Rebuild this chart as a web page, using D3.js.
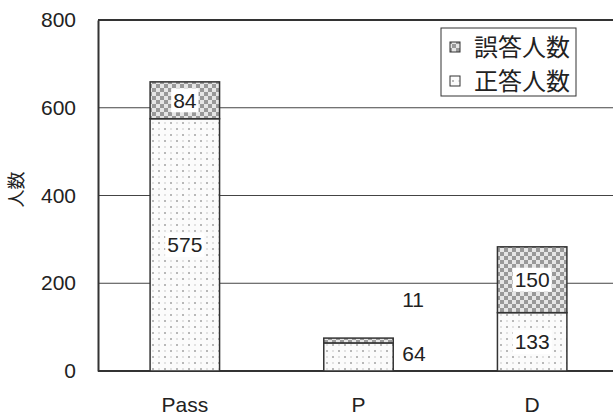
<!DOCTYPE html>
<html>
<head>
<meta charset="utf-8">
<script src="https://cdn.jsdelivr.net/npm/d3@7"></script>
<style>
  body { margin: 0; background: #fff; }
  text { font-family: "Liberation Sans", Arial, "Noto Sans CJK JP", sans-serif; fill: #222; }
</style>
</head>
<body>
<div id="chart"></div>
<script>
// data
const categories = ["Pass", "P", "D"]
const correct = [575, 64, 133]   // 正答人数
const wrong = [84, 11, 150]      // 誤答人数
const yTicks = [0, 200, 400, 600, 800]
const seriesNames = ["誤答人数", "正答人数"]

const width = 613
const height = 419
const margin = { top: 20, right: -6, bottom: 48, left: 98 }

const svg = d3.select("#chart").append("svg")
  .attr("width", width)
  .attr("height", height)

// fill patterns
const defs = svg.append("defs")
const dots = defs.append("pattern")
  .attr("id", "dots")
  .attr("patternUnits", "userSpaceOnUse")
  .attr("width", 12).attr("height", 12)
dots.append("rect").attr("width", 12).attr("height", 12).attr("fill", "#fbfbfb")
dots.append("rect").attr("x", 2).attr("y", 2).attr("width", 2).attr("height", 2).attr("fill", "#b8b8b8")
dots.append("rect").attr("x", 8).attr("y", 8).attr("width", 2).attr("height", 2).attr("fill", "#b8b8b8")
dots.append("rect").attr("x", 8).attr("y", 2).attr("width", 2).attr("height", 2).attr("fill", "#e2e2e2")
dots.append("rect").attr("x", 2).attr("y", 8).attr("width", 2).attr("height", 2).attr("fill", "#e2e2e2")

const check = defs.append("pattern")
  .attr("id", "check")
  .attr("patternUnits", "userSpaceOnUse")
  .attr("width", 8).attr("height", 8)
check.append("rect").attr("width", 8).attr("height", 8).attr("fill", "#e6e6e6")
check.append("rect").attr("width", 4).attr("height", 4).attr("fill", "#999")
check.append("rect").attr("x", 4).attr("y", 4).attr("width", 4).attr("height", 4).attr("fill", "#999")

// scales
const x = d3.scaleBand()
  .domain(categories)
  .range([margin.left, width - margin.right])
  .paddingInner(0.6)
  .paddingOuter(0.3)

const y = d3.scaleLinear()
  .domain([0, 800])
  .range([height - margin.bottom, margin.top])

// gridlines
svg.append("g")
  .selectAll("line")
  .data(yTicks.filter(t => t > 0))
  .join("line")
  .attr("x1", margin.left).attr("x2", width)
  .attr("y1", d => y(d)).attr("y2", d => y(d))
  .attr("stroke", d => d === 800 ? "#333" : "#444")
  .attr("stroke-width", d => d === 800 ? 2 : 1)

// y axis
const yAxis = svg.append("g")
  .attr("transform", "translate(" + margin.left + ",0)")
  .call(d3.axisLeft(y).tickValues(yTicks).tickSize(0).tickPadding(22))
yAxis.select(".domain").attr("stroke", "#333").attr("stroke-width", 2)
yAxis.selectAll("text").style("font-size", "21px").attr("fill", "#222")

// x axis
const xAxis = svg.append("g")
  .attr("transform", "translate(0," + y(0) + ")")
  .call(d3.axisBottom(x).tickSize(0).tickPadding(26))
xAxis.select(".domain").attr("d", "M" + margin.left + ",0H" + width)
  .attr("stroke", "#333").attr("stroke-width", 2)
xAxis.selectAll("text").style("font-size", "21px").attr("fill", "#222")

// y label
svg.append("text")
  .attr("transform", "translate(17," + (y(400) - 6) + ") rotate(-90)")
  .attr("text-anchor", "middle")
  .attr("dy", "0.35em")
  .style("font-size", "18px")
  .style("font-family", "'Noto Sans CJK JP', sans-serif")
  .text("人数")

// bars
const rows = categories.map((c, i) => ({ cat: c, correct: correct[i], wrong: wrong[i] }))

svg.append("g").selectAll("rect")
  .data(rows)
  .join("rect")
  .attr("x", d => x(d.cat))
  .attr("y", d => y(d.correct))
  .attr("width", x.bandwidth())
  .attr("height", d => y(0) - y(d.correct))
  .attr("fill", "url(#dots)")
  .attr("stroke", "#333")
  .attr("stroke-width", 1.5)

svg.append("g").selectAll("rect")
  .data(rows)
  .join("rect")
  .attr("x", d => x(d.cat))
  .attr("y", d => y(d.correct + d.wrong))
  .attr("width", x.bandwidth())
  .attr("height", d => y(d.correct) - y(d.correct + d.wrong))
  .attr("fill", "url(#check)")
  .attr("stroke", "#333")
  .attr("stroke-width", 1.5)

// data labels
const labels = []
rows.forEach(d => {
  const cx = x(d.cat) + x.bandwidth() / 2
  if (d.cat === "P") {
    // small bar: labels sit to the right
    labels.push({ t: d.wrong, x: x(d.cat) + x.bandwidth() + 9, y: y(d.correct + d.wrong) - 39, box: false, anchor: "start" })
    labels.push({ t: d.correct, x: x(d.cat) + x.bandwidth() + 9, y: y(d.correct / 2) - 4, box: false, anchor: "start" })
  } else {
    labels.push({ t: d.wrong, x: cx, y: y(d.correct + d.wrong / 2), box: true, anchor: "middle" })
    labels.push({ t: d.correct, x: cx, y: y(d.correct / 2), box: true, anchor: "middle" })
  }
})

const lab = svg.append("g").selectAll("g")
  .data(labels)
  .join("g")

lab.filter(d => d.box).append("rect")
  .attr("x", d => d.x - (String(d.t).length * 11.7) / 2 - 2)
  .attr("y", d => d.y - 12)
  .attr("width", d => String(d.t).length * 11.7 + 4)
  .attr("height", 24)
  .attr("fill", "#fff")

lab.append("text")
  .attr("x", d => d.x)
  .attr("y", d => d.y)
  .attr("dy", "0.36em")
  .attr("text-anchor", d => d.anchor)
  .style("font-size", "21px")
  .text(d => d.t)

// legend
const legend = svg.append("g")
legend.append("rect")
  .attr("x", 441).attr("y", 28)
  .attr("width", 135).attr("height", 68)
  .attr("fill", "#fff")
  .attr("stroke", "#333")
  .attr("stroke-width", 1)

const legendFills = ["url(#check)", "url(#dots)"]
seriesNames.forEach((name, i) => {
  const ly = 47 + i * 34
  legend.append("rect")
    .attr("x", 450).attr("y", ly - 5)
    .attr("width", 10).attr("height", 10)
    .attr("fill", legendFills[i])
    .attr("stroke", "#333")
    .attr("stroke-width", 1)
  legend.append("text")
    .attr("x", 474).attr("y", ly)
    .attr("dy", "0.36em")
    .style("font-size", "24px")
    .style("font-family", "'Noto Sans CJK JP', sans-serif")
    .text(name)
})
</script>
</body>
</html>
